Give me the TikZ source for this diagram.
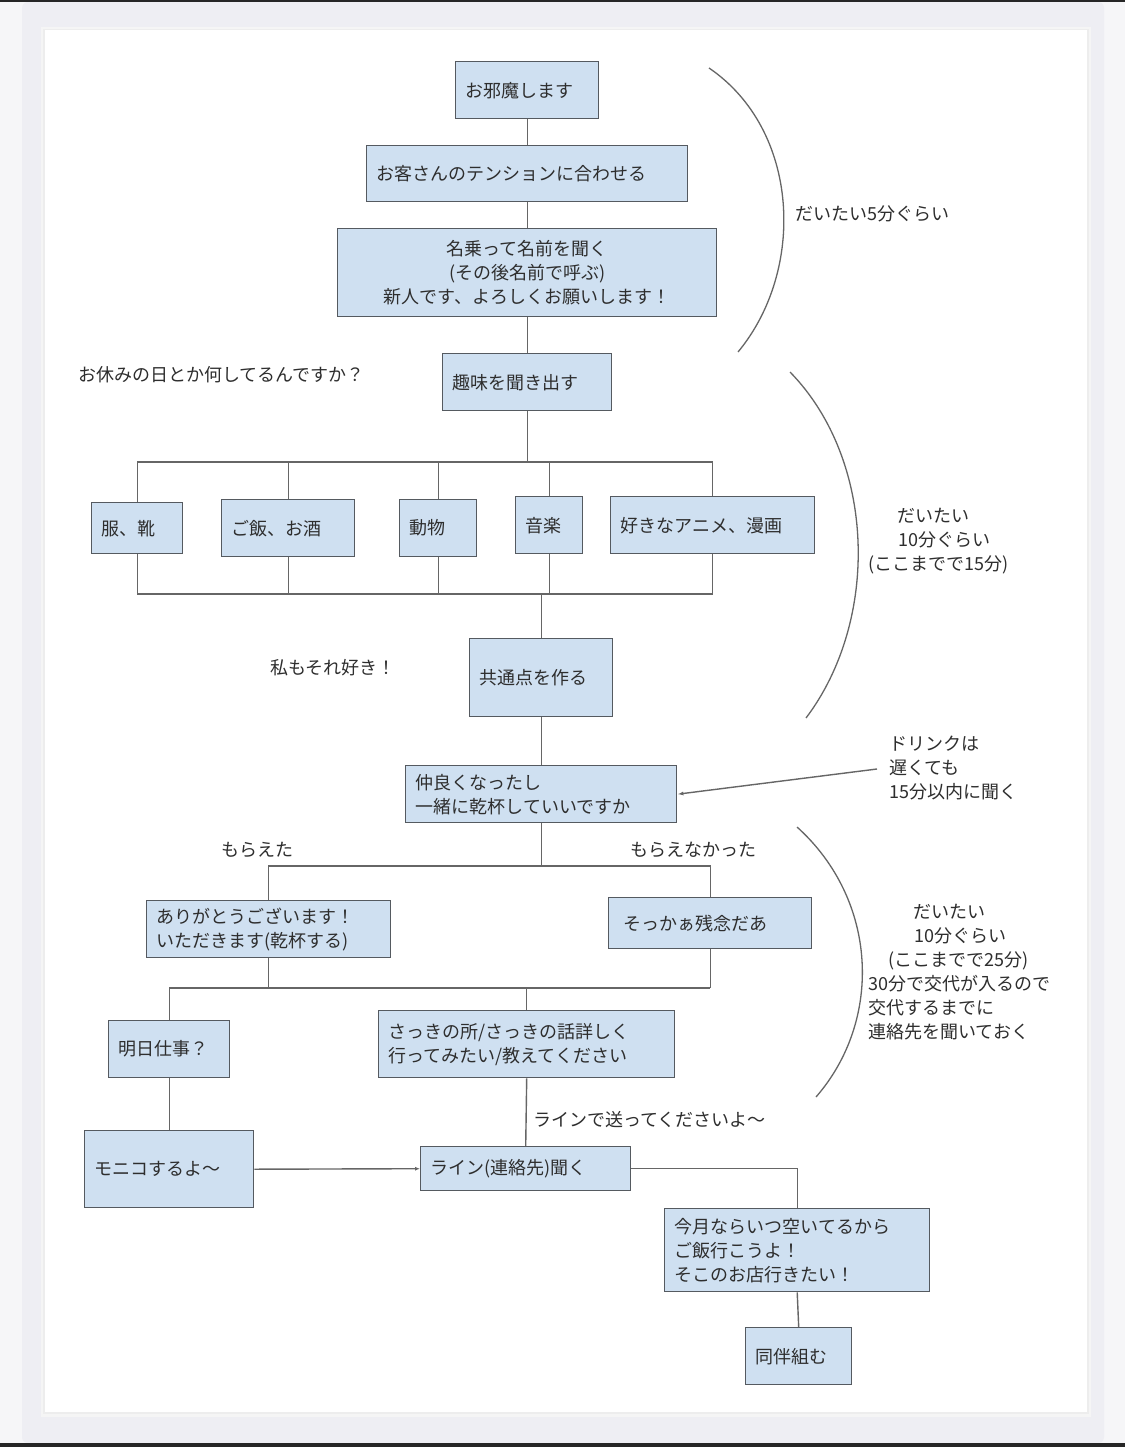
\documentclass[tikz,border=0pt]{standalone}
\usepackage{fontspec}
\setmainfont{Noto Sans CJK JP}
\usetikzlibrary{arrows.meta}
\definecolor{pagebg}{HTML}{EEEEF3}
\definecolor{edgebg}{HTML}{F6F6F8}
\definecolor{boxfill}{HTML}{CFE0F1}
\definecolor{boxline}{HTML}{555A60}
\definecolor{linecol}{HTML}{666666}
\definecolor{txt}{HTML}{2E2E2E}
\begin{document}
\begin{tikzpicture}[x=1pt,y=-1pt,
  box/.style={draw=boxline, fill=boxfill, line width=1.4pt, anchor=north west,
    inner xsep=10pt, inner ysep=0pt, align=left, text=txt,
    font=\fontsize{18pt}{24pt}\selectfont},
  lbl/.style={anchor=west, inner sep=0pt, text=txt, align=left,
    font=\fontsize{18pt}{24pt}\selectfont},
  wire/.style={draw=linecol, line width=1.4pt},
  brace/.style={draw=linecol, line width=1.3pt},
]
\useasboundingbox (0,0) rectangle (1125,1447);
% background
\fill[edgebg] (0,0) rectangle (1125,1447);
\fill[pagebg, rounded corners=6pt] (22,2) rectangle (1104,1443);
\fill[black!85] (0,0) rectangle (1125,2);
\fill[black!85] (0,1443) rectangle (1125,1447);
\fill[black!4] (41,27) rectangle (1091,1417);
\fill[black!7] (43,29) rectangle (1089,1414);
\fill[white] (45,30) rectangle (1087,1412);

% boxes
\node[box, text width=123pt, minimum height=57pt] (n1) at (455,61) {お邪魔します};
\node[box, text width=301pt, minimum height=56pt] (n2) at (366,145) {お客さんのテンションに合わせる};
\node[box, text width=359pt, minimum height=88pt, align=center] (n3) at (337,228) {名乗って名前を聞く\\(その後名前で呼ぶ)\\新人です、よろしくお願いします！};
\node[box, text width=149pt, minimum height=57pt] (n4) at (442,353) {趣味を聞き出す};
\node[box, text width=71pt, minimum height=51pt] (h1) at (91,502) {服、靴};
\node[box, text width=113pt, minimum height=57pt] (h2) at (221,499) {ご飯、お酒};
\node[box, text width=57pt, minimum height=57pt] (h3) at (399,499) {動物};
\node[box, text width=47pt, minimum height=57pt] (h4) at (515,496) {音楽};
\node[box, text width=184pt, minimum height=57pt] (h5) at (610,496) {好きなアニメ、漫画};
\node[box, text width=123pt, minimum height=78pt] (n5) at (469,638) {共通点を作る};
\node[box, text width=251pt, minimum height=57pt] (n6) at (405,765) {仲良くなったし\\一緒に乾杯していいですか};
\node[box, text width=224pt, minimum height=57pt] (n7) at (146,900) {ありがとうございます！\\いただきます(乾杯する)};
\node[box, text width=173pt, inner xsep=15pt, minimum height=51pt] (n8) at (608,897) {そっかぁ残念だあ};
\node[box, text width=101pt, minimum height=57pt] (n9) at (108,1020) {明日仕事？};
\node[box, text width=276pt, minimum height=67pt] (n10) at (378,1010) {さっきの所/さっきの話詳しく\\行ってみたい/教えてください};
\node[box, text width=149pt, minimum height=77pt] (n11) at (84,1130) {モニコするよ～};
\node[box, text width=190pt, minimum height=44pt] (n12) at (420,1146) {ライン(連絡先)聞く};
\node[box, text width=245pt, minimum height=83pt] (n13) at (664,1208) {今月ならいつ空いてるから\\ご飯行こうよ！\\そこのお店行きたい！};
\node[box, text width=86pt, minimum height=57pt] (n14) at (745,1327) {同伴組む};

% labels
\node[lbl] (q1) at (78,375) {お休みの日とか何してるんですか？};
\node[lbl] (q2) at (270,668) {私もそれ好き！};
\node[lbl] (t1) at (795,214) {だいたい5分ぐらい};
\node[lbl] (t2) at (868,541) {\hspace*{29pt}だいたい\\\hspace*{30pt}10分ぐらい\\(ここまでで15分)};
\node[lbl] (drink) at (889,768) {ドリンクは\\遅くても\\15分以内に聞く};
\node[lbl] (yes) at (221,850) {もらえた};
\node[lbl] (no) at (630,850) {もらえなかった};
\node[lbl] (t3) at (868,972) {\hspace*{45pt}だいたい\\\hspace*{46pt}10分ぐらい\\\hspace*{20pt}(ここまでで25分)\\30分で交代が入るので\\交代するまでに\\連絡先を聞いておく};
\node[lbl] (lineq) at (533,1120) {ラインで送ってくださいよ～};

% connectors
\coordinate (busT) at (0,462);
\coordinate (busB) at (0,594);
\coordinate (split) at (0,866);
\coordinate (merge) at (0,988);
\coordinate (drinkTail) at (877,769);
\draw[wire] (n1.south) -- (n2.north);
\draw[wire] (n2.south) -- (n3.north);
\draw[wire] (n3.south) -- (n4.north);
\draw[wire] (n4.south) -- (n4.south |- busT);
\draw[wire] (h1.north) -- (h1.north |- busT) -- (h5.north |- busT) -- (h5.north);
\foreach \h in {h2,h3,h4} \draw[wire] (\h.north) -- (\h.north |- busT);
\draw[wire] (h1.south) -- (h1.south |- busB) -- (h5.south |- busB) -- (h5.south);
\foreach \h in {h2,h3,h4} \draw[wire] (\h.south) -- (\h.south |- busB);
\draw[wire] (n5.north |- busB) -- (n5.north);
\draw[wire] (n5.south) -- (n6.north);
\draw[wire, -{Latex[length=6pt,width=4pt]}] (drinkTail) -- (n6.east);
\draw[wire] (n6.south) -- (n6.south |- split);
\draw[wire] (n7.north) -- (n7.north |- split) -- (n8.north |- split) -- (n8.north);
\draw[wire] (n7.south) -- (n7.south |- merge);
\draw[wire] (n8.south) -- (n8.south |- merge);
\draw[wire] (n9.north) -- (n9.north |- merge) -- (n8.south |- merge);
\draw[wire] (n10.north |- merge) -- (n10.north);
\draw[wire] (n9.south) -- (n11.north);
\draw[wire] (n10.south) -- (n12.north);
\draw[wire, -{Latex[length=5pt,width=4pt]}] (n11.east) -- (n12.west);
\draw[wire] (n12.east) -- (n12.east -| n13.north) -- (n13.north);
\draw[wire] (n13.south) -- (n14.north);

% brackets
\draw[brace] (709,68) .. controls (800,130) and (806,270) .. (738,352);
\draw[brace] (790,372) .. controls (876,460) and (880,620) .. (806,718);
\draw[brace] (797,827) .. controls (878,900) and (883,1020) .. (816,1097);
\end{tikzpicture}
\end{document}
